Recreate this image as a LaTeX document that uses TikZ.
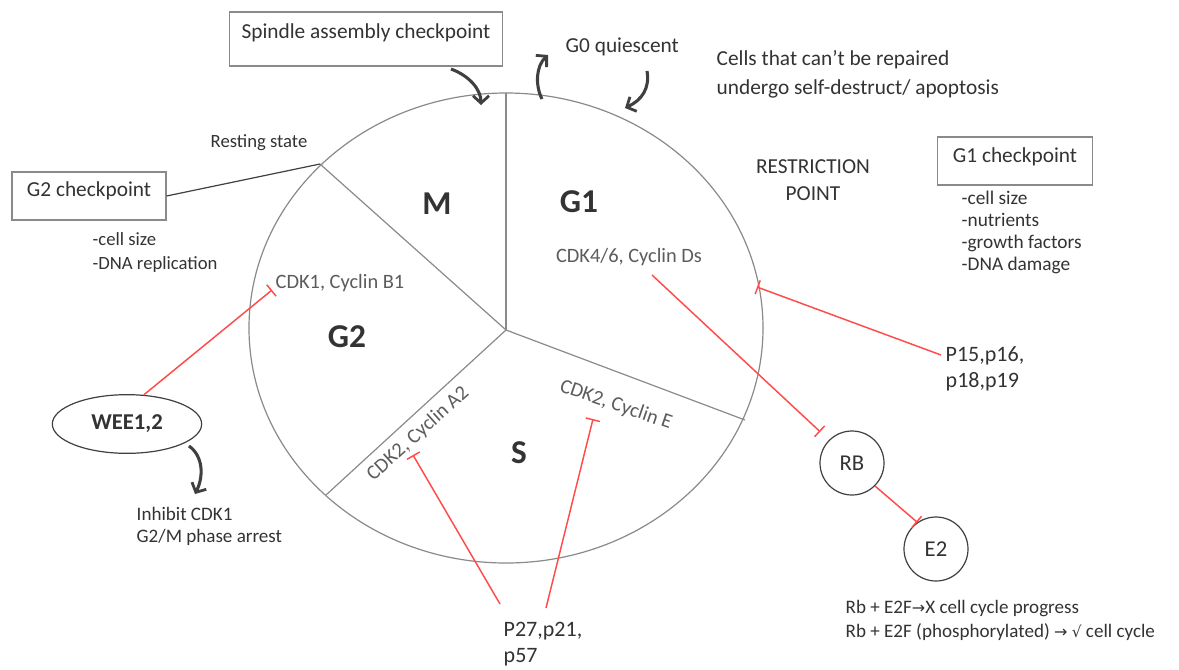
\documentclass[tikz,border=0pt]{standalone}
\usepackage{fontspec}
\setmainfont{Carlito}
\newfontfamily\symfont{DejaVu Sans}
\usetikzlibrary{arrows.meta,shapes.geometric}
\definecolor{txt}{HTML}{333333}
\definecolor{ln}{HTML}{8A8A8A}
\definecolor{rd}{HTML}{FF4B4B}
\definecolor{dk}{HTML}{404040}
\begin{document}
\begin{tikzpicture}[x=0.75pt,y=-0.75pt,
  every node/.style={text=txt,font=\fontsize{16}{19}\selectfont},
  phase/.style={font=\fontsize{25}{30}\selectfont\bfseries},
  enz/.style={text=txt!80,font=\fontsize{15.3}{18}\selectfont},
  lst/.style={align=left,anchor=west},
  boxn/.style={draw=ln,line width=0.9pt,inner xsep=0pt,inner ysep=0pt},
  seg/.style={draw=ln,line width=0.9pt},
  inhib/.style={draw=rd,line width=1.1pt,-{Bar[width=11pt,line width=1.1pt]}},
  curv/.style={draw=dk,line width=2.3pt,-{Straight Barb[length=5.5pt,width=12pt,line width=2.1pt]}},
  circ/.style={draw=dk,line width=0.9pt,circle,minimum size=48pt,inner sep=0pt,font=\fontsize{17}{20}\selectfont}
]
\useasboundingbox (0,0) rectangle (1179,669);
\fill[white] (0,0) rectangle (1179,669);

% cell cycle wheel
\coordinate (C) at (506,330);
\coordinate (ptop) at (506,93);
\coordinate (prest) at (320,164);
\coordinate (pgs) at (326,495);
\coordinate (psg) at (745,420);
\draw[seg] (506,328) ellipse [x radius=257, y radius=235];
\draw[seg] (C) -- (ptop);
\draw[seg] (C) -- (prest);
\draw[seg] (C) -- (pgs);
\draw[seg] (C) -- (psg);

\node[phase] (M) at (437,204) {M};
\node[phase] (G1) at (579,202) {G1};
\node[phase] (G2) at (347,337) {G2};
\node[phase] (S) at (519,453) {S};

\node[enz] (cdkB) at (340,283) {CDK1, Cyclin B1};
\node[enz] (cdkD) at (629,257) {CDK4/6, Cyclin Ds};
\node[enz,rotate=42] (cdkA) at (418,434) {CDK2, Cyclin A2};
\node[enz,rotate=-19] (cdkE) at (616,405) {CDK2, Cyclin E};

% boxes
\node[boxn,minimum width=205pt,text height=19.5pt,text depth=21pt] (sac) at (366,39) {Spindle assembly checkpoint};
\node[boxn,minimum width=115.5pt,text height=18pt,text depth=18pt] (g2c) at (89,196) {G2 checkpoint};
\node[boxn,minimum width=116pt,text height=18.75pt,text depth=17.25pt] (g1c) at (1015,161) {G1 checkpoint};
\draw[draw=dk,line width=0.9pt] (g2c.east) -- (prest);

% texts
\node[font=\fontsize{14}{16}\selectfont] (rest) at (259,143) {Resting state};
\node[lst,font=\fontsize{14}{18}\selectfont] (g2l) at (88,253) {-cell size\\-DNA replication};
\node[lst,font=\fontsize{14.5}{16.5}\selectfont] (g1l) at (957,232) {-cell size\\-nutrients\\-growth factors\\-DNA damage};
\node[anchor=west] (g0) at (561,47) {G0 quiescent};
\node[lst,font=\fontsize{16}{21.75}\selectfont] (apo) at (712,74) {Cells that can’t be repaired\\undergo self-destruct/ apoptosis};
\node[align=center,font=\fontsize{16}{20.25}\selectfont] (rp) at (813,180) {RESTRICTION\\POINT};
\node[lst,font=\fontsize{16.5}{19.5}\selectfont] (pp15) at (941,369) {P15,p16,\\p18,p19};
\node[lst,font=\fontsize{16.5}{19}\selectfont] (pp27) at (499,644) {P27,p21,\\p57};
\node[lst,font=\fontsize{14.3}{16.5}\selectfont] (inh) at (132,526) {Inhibit CDK1\\G2/M phase arrest};
\node[lst,font=\fontsize{14.3}{18}\selectfont] (rbtxt) at (841,620) {Rb + E2F{\symfont\fontsize{12}{10}\selectfont→}X cell cycle progress\\Rb + E2F (phosphorylated) {\symfont\fontsize{12}{10}\selectfont→} {\symfont\fontsize{11.5}{10}\selectfont√} cell cycle};

% shapes
\node[draw=dk,line width=0.9pt,ellipse,minimum width=112pt,minimum height=44pt,inner sep=0pt,font=\fontsize{17}{20}\selectfont\bfseries] (wee) at (127,424) {WEE1,2};
\node[circ] (RB) at (852,463) {RB};
\node[circ] (E2) at (936,549) {E2};

% curved arrows
\coordinate (a1s) at (451,69);
\coordinate (a1e) at (481,105);
\draw[curv] (a1s) .. controls (470,76) and (481,90) .. (a1e);
\coordinate (a2s) at (542,99);
\coordinate (a2e) at (548,55);
\draw[curv] (a2s) .. controls (535,85) and (536,66) .. (a2e);
\coordinate (a3s) at (647,71);
\coordinate (a3e) at (625,108);
\draw[curv] (a3s) .. controls (650,88) and (642,100) .. (a3e);
\coordinate (a4s) at (189,446);
\coordinate (a4e) at (195,494);
\draw[curv] (a4s) .. controls (203,456) and (204,476) .. (a4e);

% inhibition lines
\coordinate (tB) at (272,290);
\coordinate (tD) at (652,275);
\coordinate (tG1) at (757,287);
\coordinate (tA) at (413,455);
\coordinate (tE) at (593,419);
\coordinate (sP15) at (941,355);
\coordinate (sP27a) at (500,604);
\coordinate (sP27b) at (546,608);
\draw[inhib] (wee.60) -- (tB);
\draw[inhib,shorten >=9pt] (tD) -- (RB.135);
\draw[inhib] (sP15) -- (tG1);
\draw[inhib] (sP27a) -- (tA);
\draw[inhib] (sP27b) -- (tE);
\draw[inhib] (RB.-45) -- (E2.125);
\end{tikzpicture}
\end{document}
